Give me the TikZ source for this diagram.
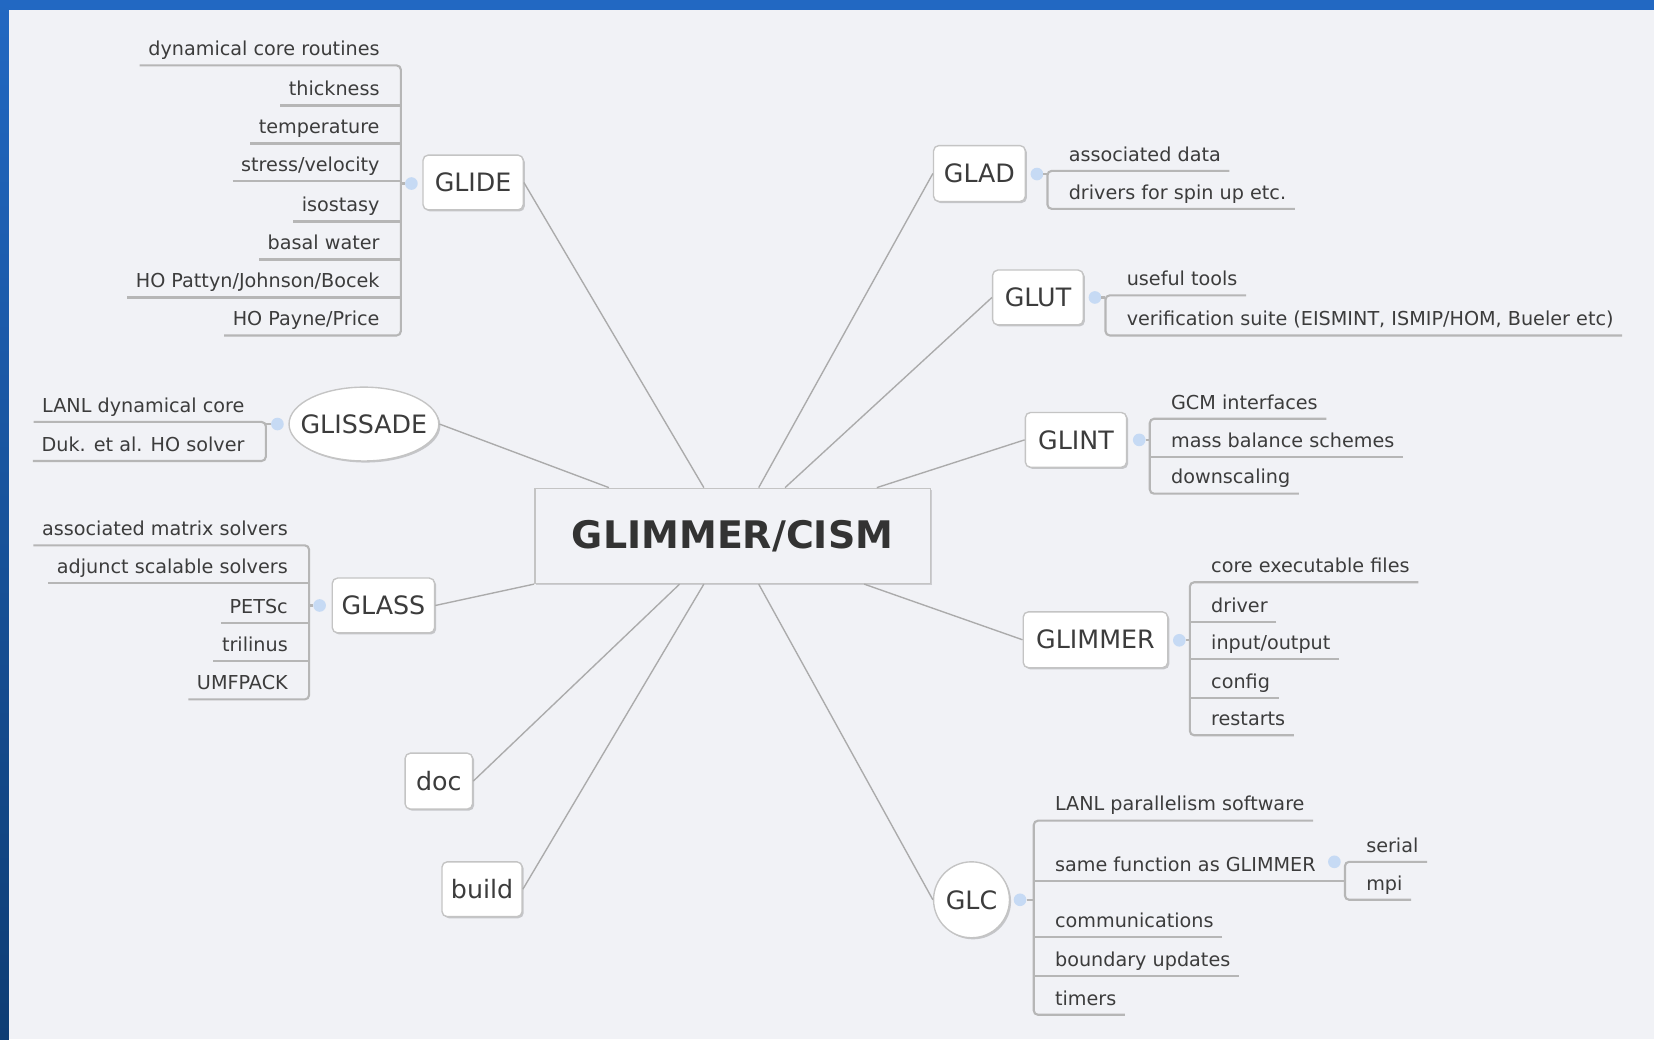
\documentclass[tikz,border=0pt]{standalone}
\usepackage{fontspec}
\setmainfont{DejaVu Sans}
\usetikzlibrary{shapes.geometric,shadows,calc}
\definecolor{bgcol}{HTML}{F1F2F6}
\definecolor{bluetop}{HTML}{2268C2}
\definecolor{bluebot}{HTML}{0E3D74}
\definecolor{txtcol}{HTML}{3C3C3C}
\definecolor{linecol}{HTML}{ABABAB}
\definecolor{ulcol}{HTML}{B6B6B6}
\definecolor{boxline}{HTML}{C4C4C4}
\definecolor{knobcol}{HTML}{C6DAF4}
\newcommand\leaffont{\fontsize{18.2}{22}\selectfont}
\newcommand\boxfont{\fontsize{24}{28}\selectfont}
\newcommand\mainfont{\fontsize{36}{40}\selectfont\bfseries}
\newcommand\zerobox[1]{\makebox[0pt]{\raisebox{-0.365em}{#1}}}
\tikzset{
  lleaf/.style={anchor=south east, inner xsep=8pt, inner ysep=5pt, text height=13.5pt, text depth=4pt, font=\leaffont, text=txtcol},
  rleaf/.style={anchor=south west, inner xsep=8pt, inner ysep=5pt, text height=13.5pt, text depth=4pt, font=\leaffont, text=txtcol},
  uline/.style={draw=ulcol, line width=2pt, rounded corners=4pt},
  conn/.style={draw=linecol, line width=1.3pt},
  knob/.style={circle, fill=knobcol, minimum size=12pt, inner sep=0pt},
  box/.style={draw=boxline, line width=1.3pt, fill=white, rounded corners=5pt, minimum height=52pt, inner sep=0pt, font=\boxfont, text=txtcol,
    drop shadow={shadow xshift=1.5pt, shadow yshift=-1.5pt, opacity=0.18, fill=black}},
  ovalbox/.style={box, rounded corners=0pt, text height=0pt, text depth=0pt},
}
\begin{document}
\begin{tikzpicture}[x=1pt,y=-1pt]
\useasboundingbox (0,0) rectangle (1568,985);
\fill[bgcol] (0,0) rectangle (1568,985);
\fill[bluetop] (0,0) rectangle (1568,9.5);
\shade[top color=bluetop, bottom color=bluebot] (0,0) rectangle (8.5,985);

% central node
\node[draw=boxline, line width=1.5pt, fill=bgcol, minimum width=375pt, minimum height=90pt, inner sep=0pt, font=\mainfont, text=txtcol!85!black,
  drop shadow={shadow xshift=1.5pt, shadow yshift=-1.5pt, opacity=0.15, fill=black}] (cism) at (694.5,508) {GLIMMER/CISM};

% first-level nodes
\node[box, minimum width=95pt] (glide) at (448.5,173) {GLIDE};
\node[ovalbox, ellipse, minimum width=142pt, minimum height=70pt] (glissade) at (345,402) {\zerobox{GLISSADE}};
\node[box, minimum width=97pt] (glass) at (363.5,574) {GLASS};
\node[box, minimum width=64pt, minimum height=53pt] (doc) at (416,740.5) {doc};
\node[box, minimum width=76pt] (build) at (457,843) {build};
\node[box, minimum width=87pt, minimum height=53pt] (glad) at (928.5,164.5) {GLAD};
\node[box, minimum width=86pt] (glut) at (984,282) {GLUT};
\node[box, minimum width=96pt] (glint) at (1020,417) {GLINT};
\node[box, minimum width=137pt, minimum height=53pt] (glimmer) at (1038.5,606.5) {GLIMMER};
\node[ovalbox, circle, minimum size=72pt] (glc) at (921,853) {\zerobox{GLC}};

% connectors to the centre
\draw[conn] (glissade.east) -- ([xshift=71pt]cism.north west);
\draw[conn] (glide.east) -- ([xshift=161pt]cism.north west);
\draw[conn] (glad.west) -- ([xshift=213pt]cism.north west);
\draw[conn] (glut.west) -- ([xshift=238pt]cism.north west);
\draw[conn] (glint.west) -- ([xshift=325pt]cism.north west);
\draw[conn] (glass.east) -- (cism.south west);
\draw[conn] (doc.east) -- ([xshift=138pt]cism.south west);
\draw[conn] (build.east) -- ([xshift=161pt]cism.south west);
\draw[conn] (glc.west) -- ([xshift=213pt]cism.south west);
\draw[conn] (glimmer.west) -- ([xshift=313pt]cism.south west);

% ---------- GLIDE ----------
\coordinate (gbar) at (380,0);
\node[lleaf] (g1) at (368,62) {dynamical core routines};
\node[lleaf] (g2) at (368,100) {thickness};
\node[lleaf] (g3) at (368,136) {temperature};
\node[lleaf] (g4) at (368,172) {stress/velocity};
\node[lleaf] (g5) at (368,210) {isostasy};
\node[lleaf] (g6) at (368,246) {basal water};
\node[lleaf] (g7) at (368,282) {HO Pattyn/Johnson/Bocek};
\node[lleaf] (g8) at (368,318) {HO Payne/Price};
\draw[uline] (g1.south west) -- (g1.south -| gbar) -- (g8.south -| gbar) -- (g8.south west);
\foreach \n in {g2,g3,g4,g5,g6,g7} \draw[uline] (\n.south west) -- (\n.south -| gbar);
\node[knob] (gk) at (390,174) {};
\draw[uline] (gk) -- (gk -| gbar);

% ---------- GLISSADE ----------
\coordinate (sbar) at (252,0);
\node[lleaf] (s1) at (240,400) {LANL dynamical core};
\node[lleaf] (s2) at (240,437) {Duk. et al. HO solver};
\draw[uline] (s1.south west) -- (s1.south -| sbar) -- (s2.south -| sbar) -- (s2.south west);
\node[knob] (sk) at (263,402) {};
\draw[uline] (sk) -- (sk -| sbar);

% ---------- GLASS ----------
\coordinate (abar) at (293,0);
\node[lleaf] (a1) at (281,517) {associated matrix solvers};
\node[lleaf] (a2) at (281,553) {adjunct scalable solvers};
\node[lleaf] (a3) at (281,591) {PETSc};
\node[lleaf] (a4) at (281,627) {trilinus};
\node[lleaf] (a5) at (281,663) {UMFPACK};
\draw[uline] (a1.south west) -- (a1.south -| abar) -- (a5.south -| abar) -- (a5.south west);
\foreach \n in {a2,a3,a4} \draw[uline] (\n.south west) -- (\n.south -| abar);
\node[knob] (ak) at (303,574) {};
\draw[uline] (ak) -- (ak -| abar);

% ---------- GLAD ----------
\coordinate (dbar) at (993,0);
\node[rleaf] (d1) at (1005,162) {associated data};
\node[rleaf] (d2) at (1005,198) {drivers for spin up etc.};
\draw[uline] (d1.south east) -- (d1.south -| dbar) -- (d2.south -| dbar) -- (d2.south east);
\node[knob] (dk) at (983,165) {};
\draw[uline] (dk) -- (dk -| dbar);

% ---------- GLUT ----------
\coordinate (ubar) at (1048,0);
\node[rleaf] (u1) at (1060,280) {useful tools};
\node[rleaf] (u2) at (1060,318) {verification suite (EISMINT, ISMIP/HOM, Bueler etc)};
\draw[uline] (u1.south east) -- (u1.south -| ubar) -- (u2.south -| ubar) -- (u2.south east);
\node[knob] (uk) at (1038,282) {};
\draw[uline] (uk) -- (uk -| ubar);

% ---------- GLINT ----------
\coordinate (ibar) at (1090,0);
\node[rleaf] (i1) at (1102,397) {GCM interfaces};
\node[rleaf] (i2) at (1102,433) {mass balance schemes};
\node[rleaf] (i3) at (1102,468) {downscaling};
\draw[uline] (i1.south east) -- (i1.south -| ibar) -- (i3.south -| ibar) -- (i3.south east);
\draw[uline] (i2.south east) -- (i2.south -| ibar);
\node[knob] (ik) at (1080,417) {};
\draw[uline] (ik) -- (ik -| ibar);

% ---------- GLIMMER ----------
\coordinate (mbar) at (1128,0);
\node[rleaf] (m1) at (1140,552) {core executable files};
\node[rleaf] (m2) at (1140,590) {driver};
\node[rleaf] (m3) at (1140,625) {input/output};
\node[rleaf] (m4) at (1140,662) {config};
\node[rleaf] (m5) at (1140,697) {restarts};
\draw[uline] (m1.south east) -- (m1.south -| mbar) -- (m5.south -| mbar) -- (m5.south east);
\foreach \n in {m2,m3,m4} \draw[uline] (\n.south east) -- (\n.south -| mbar);
\node[knob] (mk) at (1118,607) {};
\draw[uline] (mk) -- (mk -| mbar);

% ---------- GLC ----------
\coordinate (cbar) at (980,0);
\coordinate (pbar) at (1275,0);
\node[rleaf] (c1) at (992,778) {LANL parallelism software};
\node[rleaf] (c2) at (992,835) {same function as GLIMMER};
\node[rleaf] (c3) at (992,888) {communications};
\node[rleaf] (c4) at (992,925) {boundary updates};
\node[rleaf] (c5) at (992,962) {timers};
\draw[uline] (c1.south east) -- (c1.south -| cbar) -- (c5.south -| cbar) -- (c5.south east);
\foreach \n in {c3,c4} \draw[uline] (\n.south east) -- (\n.south -| cbar);
\draw[uline] (c2.south -| cbar) -- (c2.south -| pbar);
\node[knob] (ck) at (967,853) {};
\draw[uline] (ck) -- (ck -| cbar);
\node[rleaf] (p1) at (1287,817) {serial};
\node[rleaf] (p2) at (1287,853) {mpi};
\draw[uline] (p1.south east) -- (p1.south -| pbar) -- (p2.south -| pbar) -- (p2.south east);
\node[knob] (pk) at (1265,817) {};
\end{tikzpicture}
\end{document}
